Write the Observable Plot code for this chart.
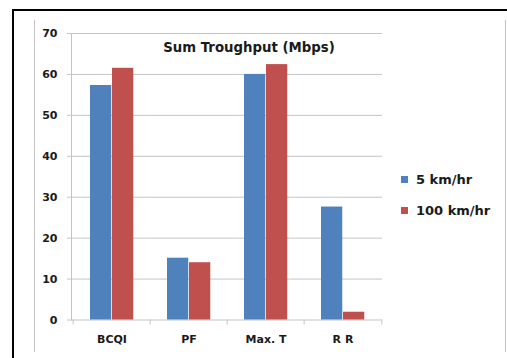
<!DOCTYPE html>
<html>
<head>
<meta charset="utf-8">
<script src="https://cdn.jsdelivr.net/npm/d3@7"></script>
<script src="https://cdn.jsdelivr.net/npm/@observablehq/plot@0.6"></script>
<style>
  html, body { margin: 0; padding: 0; background: #fff; overflow: hidden; }
  #wrap { position: relative; width: 507px; height: 358px; overflow: hidden; background: #fff; }
  #outer { position: absolute; left: 12px; top: 9px; width: 600px; height: 400px; border: 2px solid #000; box-sizing: border-box; }
  #inner { position: absolute; left: 34px; top: 20px; width: 472px; height: 332px; border-left: 1px solid #c4c4c4; border-right: 1px solid #c4c4c4; box-sizing: border-box; }
  #chart { position: absolute; left: 0; top: 0; }
  #title { position: absolute; left: 149px; width: 200px; top: 40px; text-align: center; font: bold 13.3px "DejaVu Sans", sans-serif; color: #1a1a1a; white-space: nowrap; }
  .leg { position: absolute; left: 401px; font: bold 13px "DejaVu Sans", sans-serif; color: #1a1a1a; white-space: nowrap; display: flex; align-items: center; }
  .sw { width: 7px; height: 7px; margin-right: 8px; display: inline-block; }
</style>
</head>
<body>
<div id="wrap">
  <div id="outer"></div>
  <div id="inner"></div>
  <div id="chart"></div>
  <div id="title"></div>
  <div id="legend"></div>
</div>
<script>
const titleText = "Sum Troughput (Mbps)";
const categories = ["BCQI", "PF", "Max. T", "R R"];
const seriesNames = ["5 km/hr", "100 km/hr"];
const seriesColors = ["#4F81BD", "#C0504D"];
const values5 = [57.3, 15.1, 60.0, 27.6];
const values100 = [61.5, 14.0, 62.4, 1.9];
const yTicks = [0, 10, 20, 30, 40, 50, 60, 70];

const W = 507, H = 358;
const mL = 71, mR = 125, mT = 33, mB = 38.5;
const bw = (W - mL - mR) / categories.length;
const gap = 17, barW = 22;
const grid = "#c4c4c4";

const chart = Plot.plot({
  width: W,
  height: H,
  marginLeft: mL,
  marginRight: mR,
  marginTop: mT,
  marginBottom: mB,
  style: { fontFamily: "DejaVu Sans", fontSize: "11px", fontWeight: "bold", color: "#1a1a1a", background: "transparent" },
  x: { domain: categories, padding: 0, label: null },
  y: { domain: [0, 70], label: null },
  marks: [
    Plot.ruleY(yTicks, { stroke: grid, insetLeft: -4 }),
    Plot.frame({ anchor: "left", stroke: grid }),
    Plot.barY(values5, { x: categories, y: values5, fill: seriesColors[0], insetLeft: gap, insetRight: bw - gap - barW }),
    Plot.barY(values100, { x: categories, y: values100, fill: seriesColors[1], insetLeft: gap + barW, insetRight: bw - gap - 2 * barW }),
    Plot.axisY({ ticks: yTicks, tickSize: 0, tickPadding: 14, label: null }),
    Plot.axisX({ ticks: categories, tickSize: 5, stroke: grid, text: null, dx: -bw / 2, label: null }),
    Plot.axisX({ ticks: categories.slice(-1), tickSize: 5, stroke: grid, text: null, dx: bw / 2, label: null }),
    Plot.axisX({ ticks: categories, tickSize: 0, tickPadding: 15, label: null })
  ]
});
document.getElementById("chart").appendChild(chart);
document.getElementById("title").textContent = titleText;

const legend = document.getElementById("legend");
const legTops = [172, 203];
seriesNames.forEach((name, i) => {
  const row = document.createElement("div");
  row.className = "leg";
  row.style.top = legTops[i] + "px";
  const sw = document.createElement("span");
  sw.className = "sw";
  sw.style.background = seriesColors[i];
  row.appendChild(sw);
  row.appendChild(document.createTextNode(name));
  legend.appendChild(row);
});
</script>
</body>
</html>
